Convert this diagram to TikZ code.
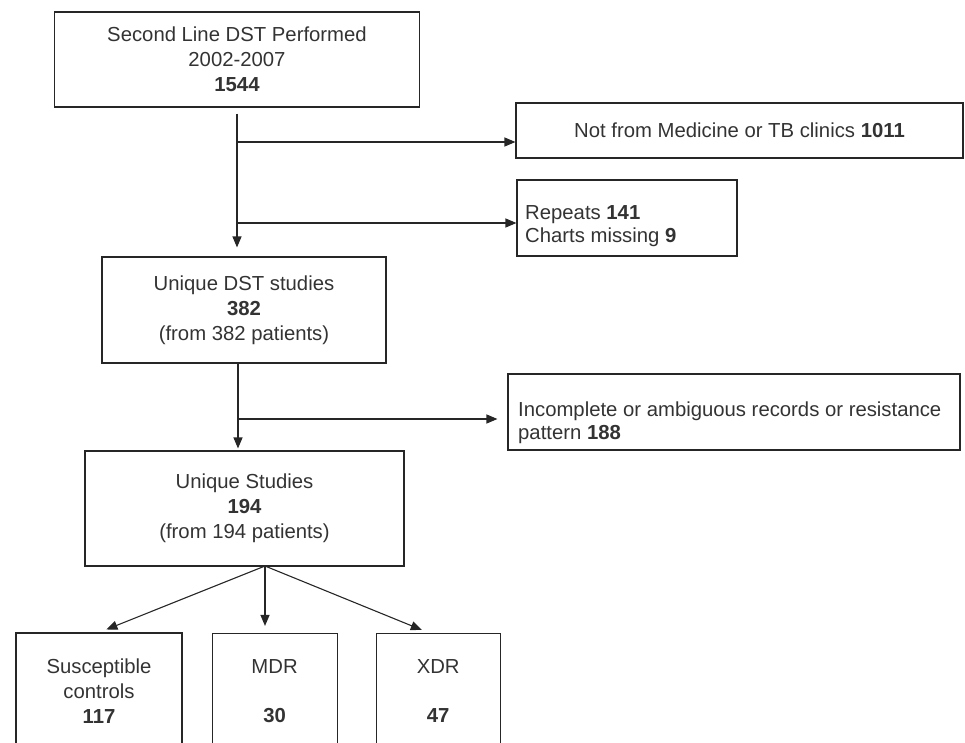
\documentclass[tikz,border=0pt]{standalone}
\usepackage{fontspec}
\setmainfont{Liberation Sans}
\usetikzlibrary{arrows.meta,positioning}

\begin{document}
\begin{tikzpicture}[
    x=1pt, y=-1pt,
    font=\fontsize{20.3pt}{25pt}\selectfont,
    text=black!80,
    box/.style={rectangle, draw=black!85, line width=1.1pt, inner sep=0pt, align=center},
    txt/.style={inner sep=0pt, align=left, anchor=north west, font=\fontsize{20.3pt}{23pt}\selectfont},
    arrow/.style={-{Triangle[length=11pt, width=9pt]}, line width=1.1pt, draw=black!85}
]
\useasboundingbox (0,0) rectangle (965,743);

% Main column
\node[box, minimum width=365pt, minimum height=95pt] (top) at (237,59.5) {Second Line DST Performed\\2002-2007\\\textbf{1544}};
\node[box, minimum width=284pt, minimum height=106pt] (dst) at (244,310) {Unique DST studies\\\textbf{382}\\(from 382 patients)};
\node[box, minimum width=319pt, minimum height=115pt] (uniq) at (244.5,508.5) {Unique Studies\\\textbf{194}\\(from 194 patients)};

% Exclusions
\node[box, minimum width=447pt, minimum height=55pt] (notmed) at (739.5,130.5) {Not from Medicine or TB clinics \textbf{1011}};
\node[box, minimum width=220pt, minimum height=76pt] (rep) at (627,218) {};
\node[txt] (rep-txt) at (525,205) {Repeats \textbf{141}\\Charts missing \textbf{9}};
\node[box, minimum width=452pt, minimum height=76pt] (incomp) at (734,412) {};
\node[txt] (incomp-txt) at (518,402) {Incomplete or ambiguous records or resistance\\pattern \textbf{188}};

% Outcome groups
\node[box, minimum width=166pt, minimum height=117pt] (sus) at (99,691.5) {Susceptible\\controls\\\textbf{117}};
\node[box, minimum width=125pt, minimum height=116pt, right=29pt of sus] (mdr) {MDR\\[24pt]\textbf{30}};
\node[box, minimum width=124pt, minimum height=116pt, right=38pt of mdr] (xdr) {XDR\\[24pt]\textbf{47}};

% Spine and branches
\coordinate (b1) at (237,142);
\coordinate (b2) at (237,223);
\coordinate (b3) at (238,419);
\coordinate (fan) at (265,566);

\draw[arrow, shorten <=6pt, shorten >=9pt] (top.south) -- (top.south |- dst.north);
\draw[arrow] (b1) -- (b1 -| notmed.west);
\draw[arrow] (b2) -- (b2 -| rep.west);
\draw[arrow, shorten >=2pt] (b3 |- dst.south) -- (b3 |- uniq.north);
\draw[arrow, shorten >=10pt] (b3) -- (b3 -| incomp.west);

% Fan out
\draw[arrow, shorten >=8pt] (fan) -- (sus.north);
\draw[arrow, shorten >=7pt] (fan) -- (fan |- mdr.north);
\draw[arrow, shorten >=8pt] (fan) -- ([xshift=-9pt]xdr.north);

\end{tikzpicture}
\end{document}
